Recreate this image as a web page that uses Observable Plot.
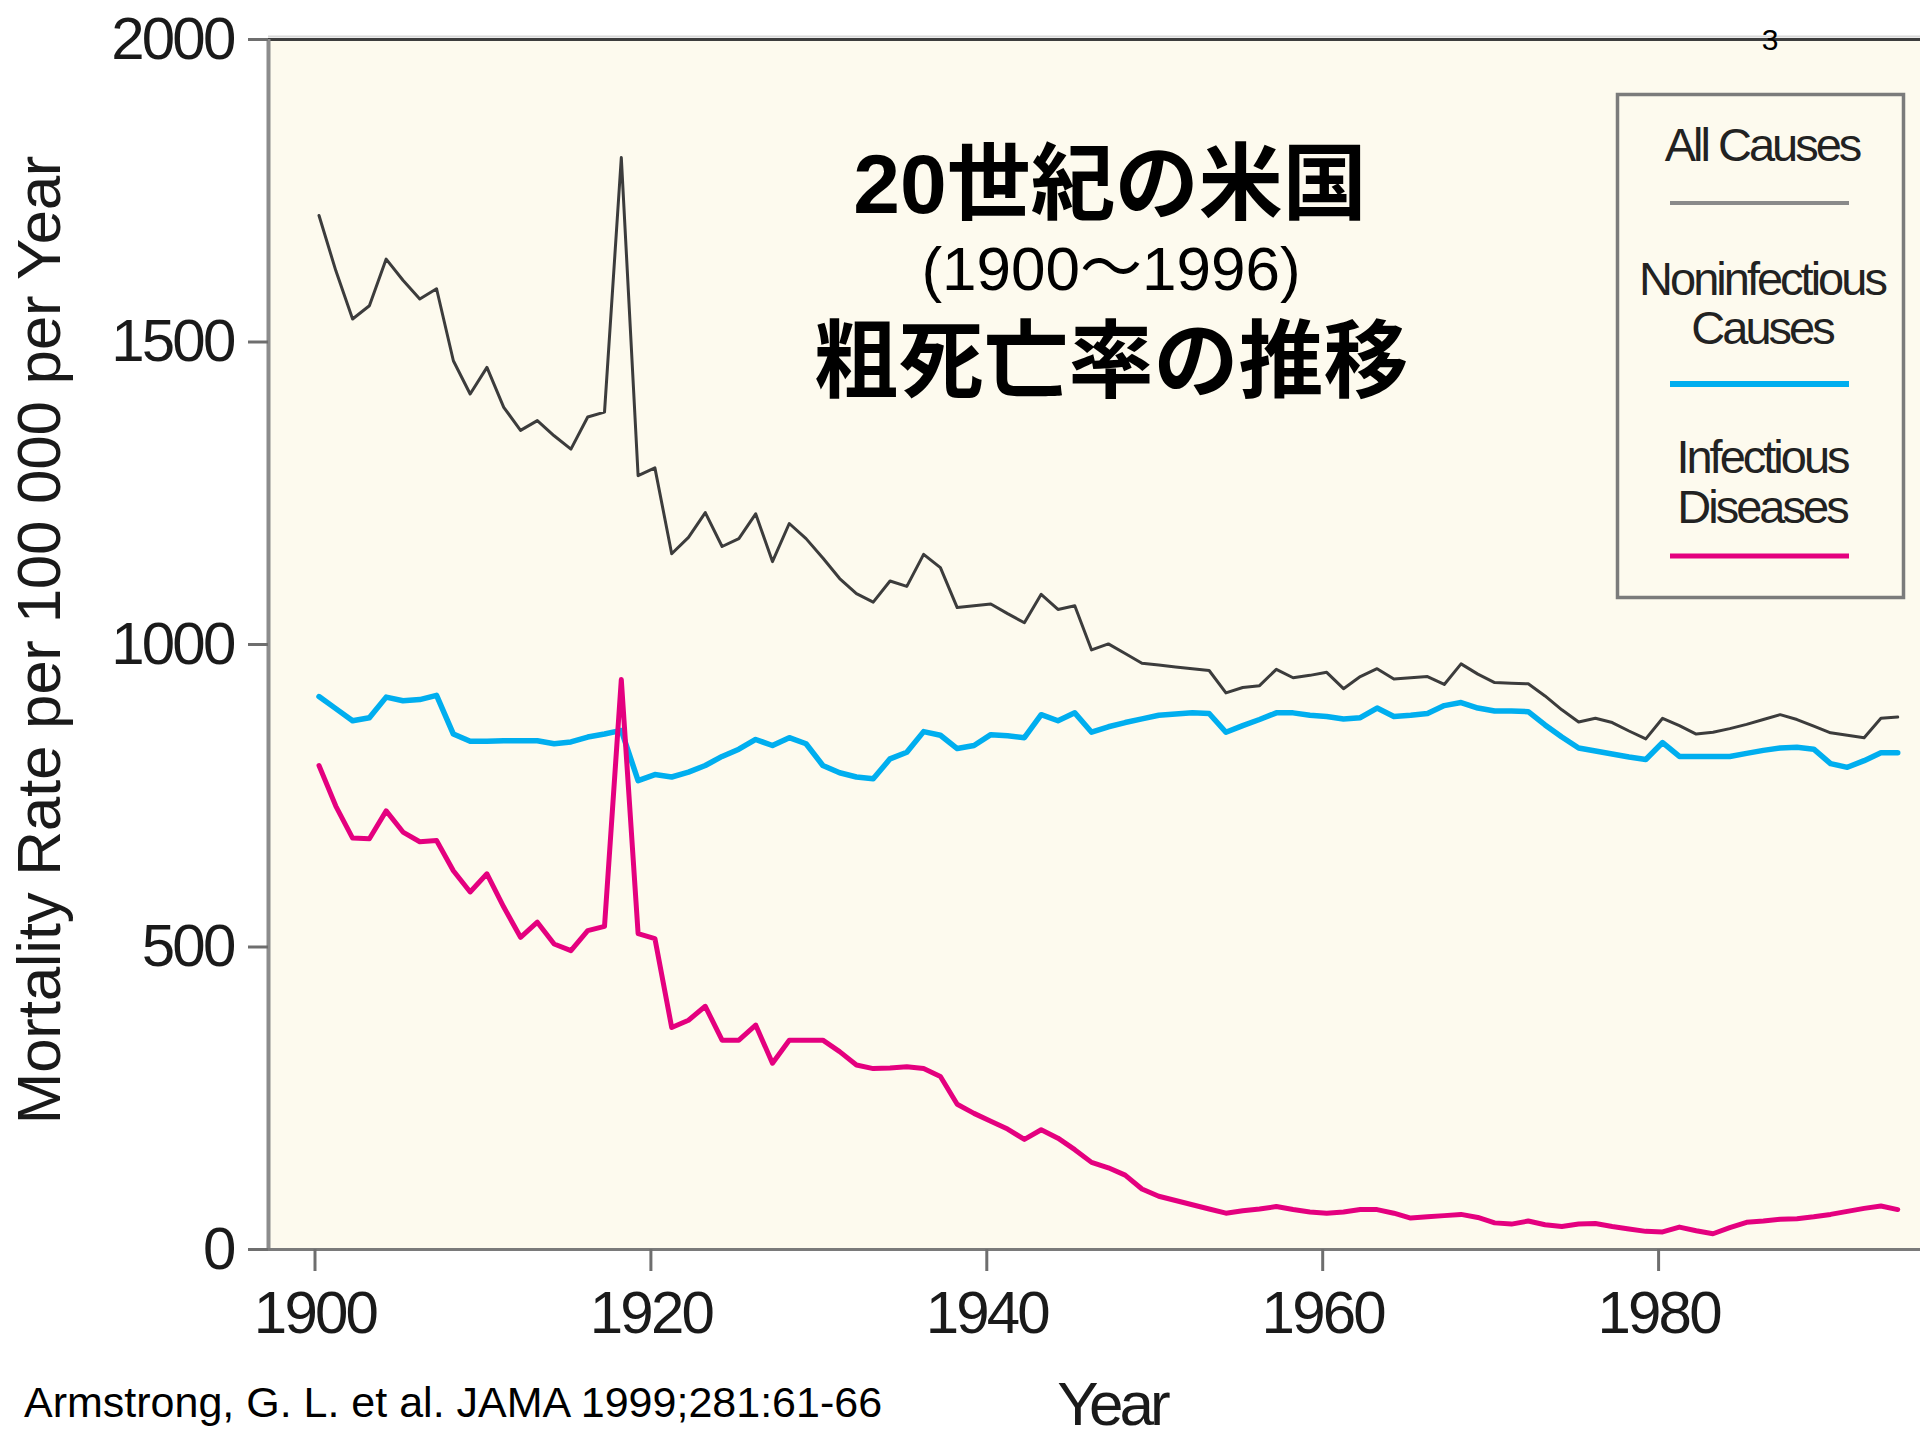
<!DOCTYPE html>
<html>
<head>
<meta charset="utf-8">
<script src="https://cdn.jsdelivr.net/npm/d3@7"></script>
<script src="https://cdn.jsdelivr.net/npm/@observablehq/plot@0.6"></script>
<style>
html, body { margin: 0; padding: 0; background: #ffffff; }
#chart { position: relative; width: 1920px; height: 1440px; overflow: hidden; background: #ffffff; }
#chart svg { display: block; }
g[aria-label="x-axis tick label"] text,
g[aria-label="y-axis tick label"] text { letter-spacing: -2.8px; }
</style>
</head>
<body>
<div id="chart"></div>
<script>
// ---- data ----
const years = d3.range(1900, 1995);

const allCauses = [
  1709,1618,1538,1560,1637,1602,1571,1588,1469,1414,
  1458,1392,1354,1370,1345,1323,1376,1384,1805,1279,
  1292,1150,1177,1218,1162,1175,1216,1137,1200,1175,
  1143,1109,1084,1070,1105,1096,1149,1127,1061,1064,
  1067,1051,1036,1083,1058,1064,991,1001,985,969,
  966,963,960,957,920,929,932,959,945,949,
  954,927,947,960,943,945,947,934,968,951,
  937,936,935,915,892,872,878,871,857,844,
  878,866,852,855,861,868,876,884,876,865,
  854,850,846,878,880
];

const noninfectious = [
  914,894,874,879,913,907,909,916,852,840,
  840,841,841,841,836,839,847,852,858,775,
  785,781,789,800,815,827,843,833,846,836,
  800,788,781,778,811,822,856,850,828,833,
  851,849,846,884,874,887,855,864,871,877,
  883,885,887,886,855,866,876,887,887,883,
  881,877,879,895,881,883,886,899,904,895,
  890,890,889,867,847,829,824,819,814,810,
  838,815,815,815,815,820,825,829,830,827,
  803,797,808,821,821
];

const infectious = [
  800,733,680,679,725,690,674,676,626,591,
  621,566,516,541,505,494,527,534,942,522,
  514,367,379,402,346,346,371,308,346,346,
  346,327,305,299,300,302,299,286,240,225,
  212,199,182,198,184,165,144,135,123,100,
  88,81,74,67,60,64,67,71,66,62,
  60,62,66,66,60,52,54,56,58,53,
  44,42,47,41,38,42,43,38,34,30,
  29,37,31,26,36,45,47,50,51,54,
  58,63,68,72,66
];

const seriesNames = ["All Causes", "Noninfectious Causes", "Infectious Diseases"];
const legendLabels = [["All Causes"], ["Noninfectious", "Causes"], ["Infectious", "Diseases"]];
const xTicks = [1900, 1920, 1940, 1960, 1980];
const yTicks = [0, 500, 1000, 1500, 2000];
const yLabel = "Mortality Rate per 100 000 per Year";
const xLabel = "Year";
const titleLine1 = "20世紀の米国";
const titleLine2 = "(1900〜1996)";
const titleLine3 = "粗死亡率の推移";
const caption = "Armstrong, G. L. et al. JAMA 1999;281:61-66";
const pageNumber = "3";

// ---- styles ----
const lineColors = ["#3c3c3c", "#00aeef", "#e4007f"];
const lineWidths = [3, 5.5, 5];
const legendColors = ["#8a8a8a", "#00aeef", "#e4007f"];
const legendWidths = [4, 6, 5];

const W = 1920, H = 1440;
const mL = 268, mR = 0, mT = 39, mB = 191;
const year0px = 318.5, pxPerYear = 16.795;
const xDomain = [1900 - (year0px - mL) / pxPerYear, 1900 + (W - mR - year0px) / pxPerYear];

const series = [allCauses, noninfectious, infectious];
const rows = series.map((vals, s) => years.map((yr, i) => ({year: yr, value: vals[i], series: seriesNames[s]})));

const plot = Plot.plot({
  width: W, height: H,
  marginLeft: mL, marginRight: mR, marginTop: mT, marginBottom: mB,
  style: {fontFamily: "'Liberation Sans', Arial, sans-serif", background: "transparent", color: "#1a1a1a"},
  x: {domain: xDomain},
  y: {domain: [0, 2000]},
  marks: [
    Plot.frame({fill: "#fdfaee", stroke: "none"}),
    Plot.ruleY([2000], {stroke: "#d8d8d8", strokeWidth: 2, dy: -3}),
    Plot.ruleY([2000], {stroke: "#3d3d3d", strokeWidth: 3}),
    ...rows.map((r, s) => Plot.line(r, {x: "year", y: "value", stroke: lineColors[s], strokeWidth: lineWidths[s], strokeLinejoin: "round"})),
    Plot.ruleX([xDomain[0]], {stroke: "#8c8c8c", strokeWidth: 4}),
    Plot.ruleY([0], {stroke: "#7a7a7a", strokeWidth: 3}),
    Plot.axisX(xTicks, {tickSize: 22, tickPadding: 19, fontSize: 60, stroke: "#6e6e6e", strokeWidth: 3, color: "#1a1a1a", label: null, tickFormat: d => String(d), dx: -4}),
    Plot.axisY(yTicks, {tickSize: 20, tickPadding: 15, fontSize: 60, stroke: "#6e6e6e", strokeWidth: 3, color: "#1a1a1a", label: null, tickFormat: d => String(d)})
  ]
});

document.getElementById("chart").appendChild(plot);

// ---- annotations ----
const svg = d3.select(plot);
const g = svg.append("g").attr("font-family", "'Liberation Sans', Arial, sans-serif").attr("fill", "#1a1a1a");

g.append("text")
  .attr("transform", "translate(60,640) rotate(-90)")
  .attr("text-anchor", "middle").attr("font-size", 62).attr("letter-spacing", "-0.3px")
  .text(yLabel);

g.append("text")
  .attr("x", 1112).attr("y", 1425).attr("text-anchor", "middle")
  .attr("font-size", 62).attr("letter-spacing", "-4px")
  .text(xLabel);

g.append("text")
  .attr("x", 24).attr("y", 1417).attr("text-anchor", "start").attr("font-size", 43).attr("fill", "#000")
  .text(caption);

g.append("text")
  .attr("x", 1770).attr("y", 50).attr("text-anchor", "middle").attr("font-size", 30).attr("fill", "#000")
  .text(pageNumber);

g.append("text")
  .attr("x", 1110).attr("y", 213).attr("text-anchor", "middle")
  .attr("font-family", "'Liberation Sans', 'Noto Sans CJK JP', sans-serif")
  .attr("font-weight", "bold").attr("font-size", 84).attr("fill", "#000")
  .text(titleLine1);

g.append("text")
  .attr("x", 1111).attr("y", 290).attr("text-anchor", "middle")
  .attr("font-family", "'Liberation Sans', 'Noto Sans CJK JP', sans-serif")
  .attr("font-size", 62).attr("fill", "#000")
  .text(titleLine2);

g.append("text")
  .attr("x", 1111).attr("y", 391).attr("text-anchor", "middle")
  .attr("font-family", "'Noto Sans CJK JP', sans-serif")
  .attr("font-weight", "bold").attr("font-size", 85).attr("fill", "#000")
  .text(titleLine3);

// legend
const lg = g.append("g");
lg.append("rect").attr("x", 1617.5).attr("y", 94.5).attr("width", 286).attr("height", 503)
  .attr("fill", "none").attr("stroke", "#7b7b7b").attr("stroke-width", 3.5);
const legendText = [[161], [295, 344], [473, 523]];
const legendLineY = [203, 384, 556];
legendLabels.forEach((lines, s) => {
  lines.forEach((t, j) => {
    lg.append("text").attr("x", 1762).attr("y", legendText[s][j]).attr("text-anchor", "middle")
      .attr("font-size", 47).attr("letter-spacing", "-3px").attr("fill", "#222").text(t);
  });
  lg.append("line").attr("x1", 1670).attr("x2", 1849).attr("y1", legendLineY[s]).attr("y2", legendLineY[s])
    .attr("stroke", legendColors[s]).attr("stroke-width", legendWidths[s]);
});
</script>
</body>
</html>
